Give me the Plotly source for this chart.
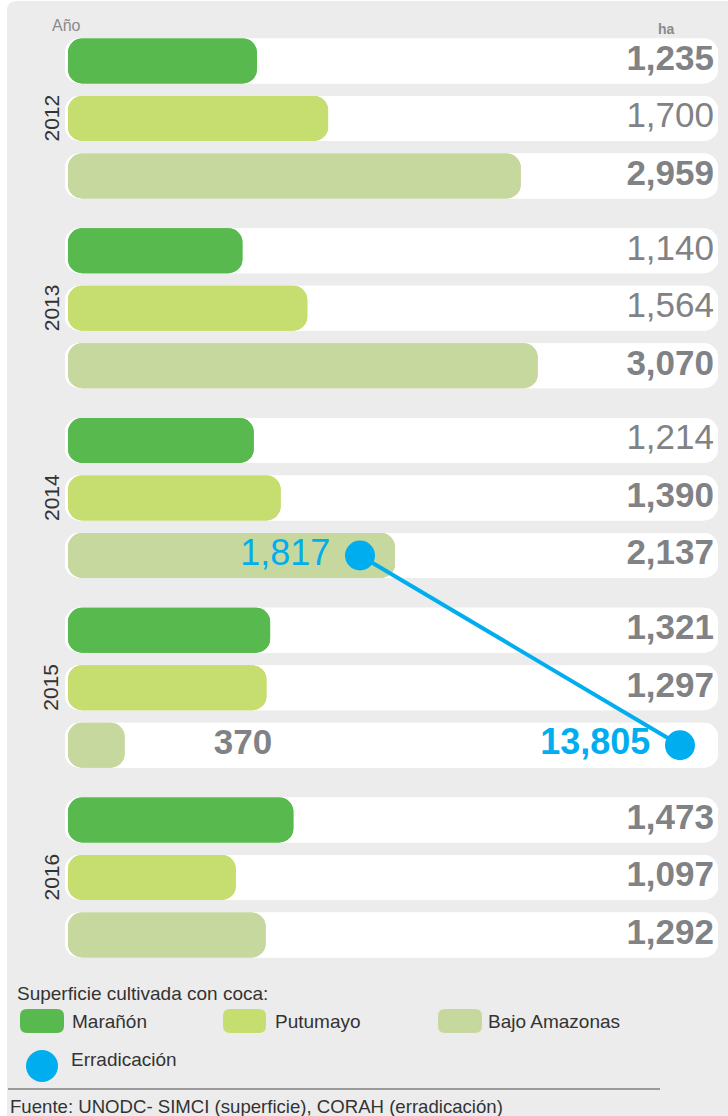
import plotly.graph_objects as go

# ---------------- data ----------------
years = ["2012", "2013", "2014", "2015", "2016"]
series_names = ["Marañón", "Putumayo", "Bajo Amazonas"]
maranon = [1235, 1140, 1214, 1321, 1473]
putumayo = [1700, 1564, 1390, 1297, 1097]
bajo_amazonas = [2959, 3070, 2137, 370, 1292]
erradicacion_years = ["2014", "2015"]
erradicacion = [1817, 13805]

# ---------------- styles ----------------
COLORS = ["#58b94e", "#c6dd70", "#c6d89e"]
BLUE = "#00aeef"
GREY_TXT = "#808285"
BG = "#ececec"
FONT = "Liberation Sans, Arial, sans-serif"
# label weights as drawn in the original (series x year)
BOLD = [[700, 400, 400, 700, 700],
        [400, 400, 700, 700, 700],
        [700, 700, 700, 700, 700]]

W, H = 728, 1116
X0, S = 68.0, 0.153          # px of value 0, px per ha (main axis)
XE0, SE = 311.5, 0.026693    # erradication axis
Y0, ROW, GROUP = 61.0, 57.5, 3.3
BAR_W = 0.78
RAD = 14


def xdata(p):
    return (p - X0) / S


def ypos(g, r):
    return g * GROUP + r


def px(x):
    return x / W


def py(y):
    return 1 - y / H


def rrect(x0, y0, x1, y1, r):
    rx, ry = r / W, r / H
    X0_, X1_ = px(x0), px(x1)
    Ya, Yb = py(y0), py(y1)
    return (f"M{X0_+rx},{Ya} L{X1_-rx},{Ya} Q{X1_},{Ya} {X1_},{Ya-ry} "
            f"L{X1_},{Yb+ry} Q{X1_},{Yb} {X1_-rx},{Yb} L{X0_+rx},{Yb} "
            f"Q{X0_},{Yb} {X0_},{Yb+ry} L{X0_},{Ya-ry} Q{X0_},{Ya} {X0_+rx},{Ya} Z")


def rounded_bar(fig, y, start, end, color, name=None, hover=None):
    """Two overlapping bars so that both ends get plotly's rounded corners."""
    common = dict(orientation="h", y=y, width=BAR_W, showlegend=False,
                  marker=dict(color=color, cornerradius=RAD, line=dict(width=0)))
    if hover:
        fig.add_trace(go.Bar(x=[e - s for s, e in zip(start, end)], base=start,
                             name=name, hovertemplate=hover, **common))
    else:
        fig.add_trace(go.Bar(x=[e - s for s, e in zip(start, end)], base=start,
                             hoverinfo="skip", **common))
    fig.add_trace(go.Bar(x=[s - e for s, e in zip(start, end)], base=end,
                         hoverinfo="skip", **common))


series = [maranon, putumayo, bajo_amazonas]
fig = go.Figure()

# white background pills
all_y = [ypos(g, r) for g in range(len(years)) for r in range(3)]
rounded_bar(fig, all_y, [xdata(65)] * len(all_y), [xdata(718)] * len(all_y), "white")

# series bars
for r, (name, vals) in enumerate(zip(series_names, series)):
    rounded_bar(fig, [ypos(g, r) for g in range(len(years))], [0] * len(vals), vals,
                COLORS[r], name=name,
                hover=name + ": %{x:,} ha<extra></extra>")

# value labels
lx, ly, lt, lp, lw = [], [], [], [], []
for r, vals in enumerate(series):
    for g, v in enumerate(vals):
        special = (r == 2 and years[g] == erradicacion_years[-1])
        lx.append(xdata(243) if special else xdata(714))
        ly.append(ypos(g, r))
        lt.append(f"{v:,}")
        lp.append("middle center" if special else "middle left")
        lw.append(BOLD[r][g])
fig.add_trace(go.Scatter(
    mode="text", x=lx, y=ly, text=lt, textposition=lp,
    textfont=dict(family=FONT, size=35, color=GREY_TXT, weight=lw),
    hoverinfo="skip", showlegend=False))

# erradication
fig.add_trace(go.Scatter(
    xaxis="x2", yaxis="y",
    x=erradicacion,
    y=[ypos(years.index(y), 2) for y in erradicacion_years],
    mode="lines+markers+text",
    line=dict(color=BLUE, width=4),
    marker=dict(color=BLUE, size=30),
    text=[f"{v:,}\u00a0" for v in erradicacion],
    textposition="middle left",
    textfont=dict(family=FONT, size=36, color=BLUE, weight=[400, 700]),
    name="Erradicación",
    hovertemplate="Erradicación: %{x:,} ha<extra></extra>",
    showlegend=False))

shapes = []
shapes.append(dict(type="path", xref="paper", yref="paper",
                   path=rrect(7, 1, 760, 1140, 10),
                   fillcolor=BG, line=dict(width=0), layer="below"))
for (x0, x1), c in zip([(20, 64), (223, 266), (438, 482)], COLORS):
    shapes.append(dict(type="path", xref="paper", yref="paper",
                       path=rrect(x0, 1009, x1, 1033, 7),
                       fillcolor=c, line=dict(width=0)))
shapes.append(dict(type="circle", xref="paper", yref="paper",
                   x0=px(26), x1=px(58), y0=py(1082), y1=py(1050),
                   fillcolor=BLUE, line=dict(width=0)))
shapes.append(dict(type="line", xref="paper", yref="paper",
                   x0=px(8), x1=px(660), y0=py(1089), y1=py(1089),
                   line=dict(color="#9a9a9a", width=2)))


def note(x, y, text, size, color="#333333", xanchor="left", yref="paper",
         weight=400, angle=0):
    return dict(xref="paper", yref=yref, x=px(x),
                y=(py(y) if yref == "paper" else y), text=text,
                xanchor=xanchor, yanchor="middle", textangle=angle,
                showarrow=False,
                font=dict(family=FONT, size=size, color=color, weight=weight))


ann = []
for g, yr in enumerate(years):
    ann.append(note(51, ypos(g, 1), yr, 21, xanchor="center", yref="y", angle=-90))
ann.append(note(50, 25, "Año", 16, color="#8a8a8a"))
ann.append(note(666, 29, "ha", 14, color="#8a8a8a", xanchor="center", weight=700))
ann.append(note(15, 993, "Superficie cultivada con coca:", 19))
for xt, name in zip([70, 273, 486], series_names):
    ann.append(note(xt, 1021, name, 19))
ann.append(note(69, 1059, "Erradicación", 19))
ann.append(note(8, 1106, "Fuente: UNODC- SIMCI (superficie), CORAH (erradicación)", 18.6))

fig.update_layout(
    width=W, height=H, margin=dict(l=0, r=0, t=0, b=0),
    paper_bgcolor="white", plot_bgcolor="rgba(0,0,0,0)",
    barmode="overlay", showlegend=False,
    xaxis=dict(range=[xdata(0), xdata(W)], visible=False, fixedrange=True),
    xaxis2=dict(range=[(0 - XE0) / SE, (W - XE0) / SE], overlaying="x",
                anchor="y", visible=False, fixedrange=True),
    yaxis=dict(range=[(H - Y0) / ROW, -Y0 / ROW], visible=False, fixedrange=True),
    shapes=shapes, annotations=ann,
)

fig.write_html("out.html", config={"displayModeBar": False},
               post_script="document.body.style.margin='0';")
